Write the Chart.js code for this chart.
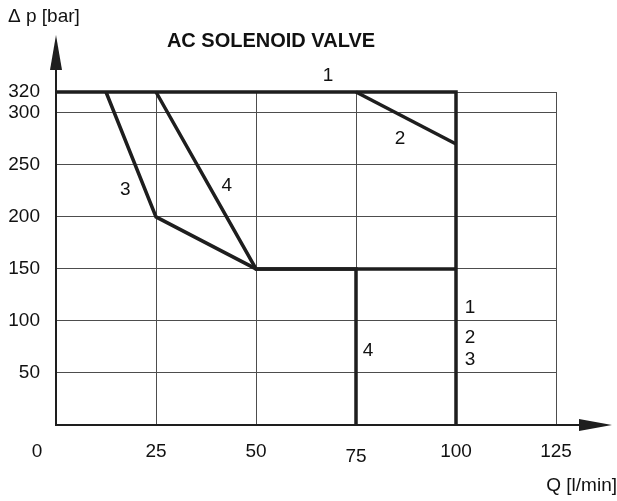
<!DOCTYPE html>
<html>
<head>
<meta charset="utf-8">
<script src="https://cdn.jsdelivr.net/npm/chart.js@4.4.1/dist/chart.umd.min.js"></script>
<style>
  html, body { margin: 0; padding: 0; background: #fff; }
  #wrap { width: 617px; height: 501px; }
</style>
</head>
<body>
<div id="wrap"><canvas id="chart"></canvas></div>
<script>
// flow Q [l/min] and pressure drop [bar] for each curve
const curve1 = [{ x: 0, y: 320 }, { x: 100, y: 320 }, { x: 100, y: 0 }]
const curve2 = [{ x: 75, y: 320 }, { x: 100, y: 270 }]
const curve3 = [{ x: 12.5, y: 320 }, { x: 25, y: 200 }, { x: 50, y: 150 }, { x: 100, y: 150 }]
const curve4 = [{ x: 25, y: 320 }, { x: 50, y: 150 }, { x: 75, y: 150 }, { x: 75, y: 0 }]

const xTicks = [0, 25, 50, 75, 100, 125]
const yTicks = [50, 100, 150, 200, 250, 300, 320]

// curve numbers, placed in data units
const curveLabels = [
  { text: '1', x: 68, y: 336 },
  { text: '2', x: 86, y: 275 },
  { text: '3', x: 17.3, y: 226 },
  { text: '4', x: 42.7, y: 230 },
  { text: '1', x: 103.5, y: 113 },
  { text: '2', x: 103.5, y: 84 },
  { text: '3', x: 103.5, y: 63 },
  { text: '4', x: 78, y: 71 },
]

const INK = '#1e1e1e'
const FONT = '"Liberation Sans", Arial, sans-serif'

const lineSet = data => ({
  data,
  showLine: true,
  borderColor: INK,
  borderWidth: 3.5,
  pointRadius: 0,
  fill: false,
  clip: 6,
})

const decor = {
  id: 'decor',
  afterDraw(chart) {
    const { ctx, chartArea: a, scales } = chart
    const sx = scales.x
    const sy = scales.y
    ctx.save()
    ctx.fillStyle = INK
    ctx.strokeStyle = INK
    ctx.lineWidth = 2

    // axis extensions and arrow heads
    ctx.beginPath()
    ctx.moveTo(a.left, a.top)
    ctx.lineTo(a.left, 68)
    ctx.moveTo(a.right, a.bottom)
    ctx.lineTo(581, a.bottom)
    ctx.stroke()
    ctx.beginPath()
    ctx.moveTo(a.left, 35)
    ctx.lineTo(a.left - 6, 70)
    ctx.lineTo(a.left + 6, 70)
    ctx.closePath()
    ctx.fill()
    ctx.beginPath()
    ctx.moveTo(612, a.bottom)
    ctx.lineTo(579, a.bottom - 6)
    ctx.lineTo(579, a.bottom + 6)
    ctx.closePath()
    ctx.fill()

    // x tick labels
    ctx.fillStyle = '#111'
    ctx.font = '19px ' + FONT
    ctx.textBaseline = 'middle'
    ctx.textAlign = 'center'
    xTicks.forEach(v => {
      if (v === 0) {
        ctx.fillText('0', sx.getPixelForValue(0) - 19, a.bottom + 27)
      } else {
        const dy = v === 75 ? 32 : 27
        ctx.fillText(String(v), sx.getPixelForValue(v), a.bottom + dy)
      }
    })

    // curve numbers
    curveLabels.forEach(l => {
      ctx.fillText(l.text, sx.getPixelForValue(l.x), sy.getPixelForValue(l.y))
    })

    // axis titles and chart title
    ctx.font = '19px ' + FONT
    ctx.textAlign = 'left'
    ctx.fillText('\u0394 p [bar]', 8, 17)
    ctx.textAlign = 'right'
    ctx.fillText('Q [l/min]', 617, 486)
    ctx.textAlign = 'center'
    ctx.font = 'bold 20px ' + FONT
    ctx.fillText('AC SOLENOID VALVE', 271, 41)
    ctx.restore()
  },
}

new Chart(document.getElementById('chart'), {
  type: 'scatter',
  data: {
    datasets: [lineSet(curve1), lineSet(curve2), lineSet(curve3), lineSet(curve4)],
  },
  options: {
    responsive: true,
    maintainAspectRatio: false,
    animation: false,
    layout: { padding: { top: 92, right: 61, left: 0, bottom: 0 } },
    plugins: {
      legend: { display: false },
      tooltip: { enabled: false },
      title: { display: false },
    },
    scales: {
      x: {
        type: 'linear',
        min: 0,
        max: 125,
        afterBuildTicks: s => { s.ticks = xTicks.map(v => ({ value: v })) },
        afterFit: s => { s.height = 76 },
        ticks: { display: false },
        grid: { color: '#4d4d4d', lineWidth: 1, drawTicks: false },
        border: { display: true, color: INK, width: 2 },
      },
      y: {
        type: 'linear',
        min: 0,
        max: 320,
        afterBuildTicks: s => { s.ticks = [0].concat(yTicks).map(v => ({ value: v })) },
        afterFit: s => { s.width = 56 },
        ticks: {
          autoSkip: false,
          padding: 16,
          color: '#111',
          font: { family: FONT, size: 19 },
          callback: v => (v === 0 ? '' : v),
        },
        grid: { color: '#4d4d4d', lineWidth: 1, drawTicks: false },
        border: { display: true, color: INK, width: 2 },
      },
    },
  },
  plugins: [decor],
})
</script>
</body>
</html>
